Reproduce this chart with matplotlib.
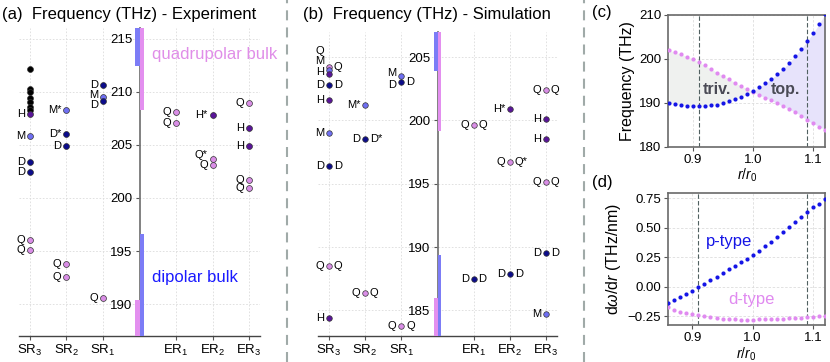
import matplotlib
matplotlib.use('Agg')
import matplotlib.pyplot as plt
from matplotlib.lines import Line2D

plt.rcParams['font.family'] = ['Liberation Sans', 'DejaVu Sans']
plt.rcParams['mathtext.fontset'] = 'custom'
plt.rcParams['mathtext.rm'] = 'Liberation Sans'
plt.rcParams['mathtext.it'] = 'Liberation Sans:italic'
plt.rcParams['mathtext.bf'] = 'Liberation Sans:bold'

# ---------------- data ----------------
categories = ['SR$_3$', 'SR$_2$', 'SR$_1$', 'ER$_1$', 'ER$_2$', 'ER$_3$']
cat_pos = [-3, -2, -1, 1, 2, 3]

# (a) experiment
exp_cat = [0] * 13 + [1] * 5 + [2] * 4 + [3] * 2 + [4] * 3 + [5] * 5
exp_freq = [212.1, 210.3, 210.0, 209.4, 209.0, 208.6, 208.25, 207.9, 205.8, 203.4, 202.4, 196.0, 195.1,
            208.3, 206.0, 204.9, 193.8, 192.6,
            210.6, 209.5, 209.1, 190.6,
            208.1, 207.1,
            207.8, 203.7, 203.1,
            208.9, 206.6, 204.9, 201.7, 200.9]
exp_type = ['X'] * 7 + ['H', 'M', 'D', 'D', 'Q', 'Q',
                        'M', 'D', 'D', 'Q', 'Q',
                        'D', 'M', 'D', 'Q',
                        'Q', 'Q',
                        'H', 'Q', 'Q',
                        'Q', 'H', 'H', 'Q', 'Q']
exp_label = [''] * 7 + ['H', 'M', 'D', 'D', 'Q', 'Q',
                        'M*', 'D*', 'D', 'Q', 'Q',
                        'D', 'M', 'D', 'Q',
                        'Q', 'Q',
                        'H*', 'Q*', 'Q',
                        'Q', 'H', 'H', 'Q', 'Q']
exp_dipolar_gap = [196.6, 212.4]      # dipolar bulk below / above
exp_quadrupolar_gap = [190.4, 208.3]  # quadrupolar bulk below / above

# (b) simulation
sim_cat = [0] * 9 + [1] * 3 + [2] * 3 + [3] * 2 + [4] * 3 + [5] * 6
sim_freq = [204.2, 204.0, 203.7, 202.8, 201.6, 199.0, 196.4, 188.5, 184.4,
            201.2, 198.5, 186.4,
            203.5, 203.05, 183.8,
            199.6, 187.5,
            200.9, 196.7, 187.9,
            202.4, 200.1, 198.5, 195.1, 189.5, 184.7]
sim_type = ['Q', 'M', 'H', 'D', 'H', 'M', 'D', 'Q', 'H',
            'M', 'D', 'Q',
            'M', 'D', 'Q',
            'Q', 'D',
            'H', 'Q', 'D',
            'Q', 'H', 'H', 'Q', 'D', 'M']
sim_left = ['Q', 'M', 'H', 'D', 'H', 'M', 'D', 'Q', 'H',
            'M*', 'D', 'Q',
            'M', 'D', 'Q',
            'Q', 'D',
            'H*', 'Q', 'D',
            'Q', 'H', 'H', 'Q', 'D', 'M']
sim_right = ['Q', '', '', 'D', '', '', 'D', 'Q', '',
             '', 'D*', 'Q',
             '', 'D', 'Q',
             'Q', 'D',
             '', 'Q*', 'D',
             'Q', '', '', 'Q', 'D', '']
sim_dipolar_gap = [189.4, 203.9]
sim_quadrupolar_gap = [186.0, 199.2]

# (c), (d)
r_ratio = [0.86, 0.87, 0.88, 0.89, 0.90, 0.91, 0.92, 0.93, 0.94, 0.95, 0.96, 0.97, 0.98, 0.99,
           1.00, 1.01, 1.02, 1.03, 1.04, 1.05, 1.06, 1.07, 1.08, 1.09, 1.10, 1.11, 1.12]
p_freq = [190.0, 189.7, 189.5, 189.3, 189.2, 189.2, 189.2, 189.4, 189.6, 189.9, 190.4, 190.8, 191.3,
          191.9, 192.7, 193.5, 194.4, 195.4, 196.5, 197.7, 199.1, 200.6, 202.2, 204.0, 205.8, 207.9, 210.2]
d_freq = [202.0, 201.5, 201.1, 200.5, 200.0, 199.2, 198.5, 197.7, 196.9, 196.2, 195.4, 194.6, 193.8,
          193.2, 192.5, 191.8, 191.2, 190.6, 189.9, 189.2, 188.6, 187.9, 187.1, 186.0, 185.3, 184.6, 183.9]
p_slope = [-0.14, -0.114, -0.09, -0.065, -0.037, -0.005, 0.023, 0.054, 0.082, 0.113, 0.147, 0.175, 0.206,
           0.237, 0.268, 0.305, 0.347, 0.381, 0.424, 0.466, 0.509, 0.546, 0.589, 0.631, 0.673, 0.704, 0.741]
d_slope = [-0.172, -0.20, -0.214, -0.225, -0.234, -0.242, -0.25, -0.259, -0.267, -0.272, -0.276, -0.278,
           -0.279, -0.279, -0.279, -0.278, -0.277, -0.276, -0.275, -0.273, -0.27, -0.268, -0.265, -0.261,
           -0.256, -0.252, -0.248]
r_marks = [0.91, 1.09]

# ---------------- style ----------------
type_color = {'X': '#000000', 'D': '#0c0c8a', 'M': '#6f6ff2', 'H': '#5a1599', 'Q': '#d98ee6'}
bar_blue = '#7c7cf6'
bar_pink = '#e38fef'
line_blue = '#1515e6'
line_pink = '#e08af0'
LABEL_FS = 8

fig = plt.figure(figsize=(8.3, 3.62), dpi=100)


def setup_level_axes(ax, ylim, yticks):
    ax.set_xlim(-3.3, 3.3)
    ax.set_ylim(*ylim)
    ax.spines['left'].set_position(('data', 0))
    ax.spines['left'].set_color('#777777')
    ax.spines['left'].set_linewidth(1.3)
    ax.spines['right'].set_visible(False)
    ax.spines['top'].set_visible(False)
    ax.spines['bottom'].set_color('#444444')
    ax.spines['bottom'].set_linewidth(1.0)
    ax.set_xticks(cat_pos)
    ax.set_xticklabels(categories, fontsize=9.5)
    ax.set_yticks(yticks)
    ax.tick_params(axis='y', labelsize=9.5, length=3, color='#555555', pad=2)
    ax.tick_params(axis='x', length=3, color='#555555', pad=2)
    ax.grid(True, ls=(0, (2, 2)), color='#dcdcdc', lw=0.6)
    ax.set_axisbelow(True)


def draw_bulk(ax, dip, quad, w):
    top = 240
    bot = 160
    # upper bands: blue left, pink right
    ax.bar(-w, top - dip[1], bottom=dip[1], width=w, align='edge', color=bar_blue, zorder=3, lw=0)
    ax.bar(0, top - quad[1], bottom=quad[1], width=w, align='edge', color=bar_pink, zorder=3, lw=0)
    # lower bands: pink left, blue right
    ax.bar(-w, quad[0] - bot, bottom=bot, width=w, align='edge', color=bar_pink, zorder=3, lw=0)
    ax.bar(0, dip[0] - bot, bottom=bot, width=w, align='edge', color=bar_blue, zorder=3, lw=0)


# ----- (a) -----
axA = fig.add_axes([19 / 830, 1 - 336 / 362, 241 / 830, 308 / 362])
setup_level_axes(axA, (187, 216), [190, 195, 200, 205, 210, 215])
draw_bulk(axA, exp_dipolar_gap, exp_quadrupolar_gap, 0.11)
exp_dy = {19: 1.5, 20: -2.5, 25: 2.5}
for i, (c, f, t, lab) in enumerate(zip(exp_cat, exp_freq, exp_type, exp_label)):
    x = cat_pos[c]
    axA.scatter(x, f, s=18, color=type_color[t], edgecolor='#333333', linewidth=0.5, zorder=4)
    if lab:
        axA.annotate(lab, (x, f), xytext=(-3.5, exp_dy.get(i, 0)), textcoords='offset points',
                     ha='right', va='center', fontsize=LABEL_FS, zorder=5)
axA.text(0.34, 213.5, 'quadrupolar bulk', color='#e08ee8', fontsize=12, va='center', ha='left')
axA.text(0.34, 192.5, 'dipolar bulk', color='#1a1aff', fontsize=12, va='center', ha='left')
fig.text(2 / 830, 1 - 14 / 362, '(a)  Frequency (THz) - Experiment', fontsize=12, ha='left', va='center')

# ----- (b) -----
axB = fig.add_axes([318 / 830, 1 - 335.7 / 362, 239 / 830, 304 / 362])
setup_level_axes(axB, (183, 207), [185, 190, 195, 200, 205])
draw_bulk(axB, sim_dipolar_gap, sim_quadrupolar_gap, 0.11)
sim_dy = {0: 12, 1: 6, 2: 1, 12: 2, 13: -2}
for i, (c, f, t, l1, l2) in enumerate(zip(sim_cat, sim_freq, sim_type, sim_left, sim_right)):
    x = cat_pos[c]
    axB.scatter(x, f, s=16, color=type_color[t], edgecolor='#333333', linewidth=0.5, zorder=4)
    if l1:
        axB.annotate(l1, (x, f), xytext=(-3.5, sim_dy.get(i, 0)), textcoords='offset points',
                     ha='right', va='center', fontsize=LABEL_FS, zorder=5)
    if l2:
        axB.annotate(l2, (x, f), xytext=(3.5, 0), textcoords='offset points',
                     ha='left', va='center', fontsize=LABEL_FS, zorder=5)
fig.text(303 / 830, 1 - 14 / 362, '(b)  Frequency (THz) - Simulation', fontsize=12, ha='left', va='center')


def setup_line_axes(ax):
    ax.set_xlim(0.859, 1.12)
    ax.set_xticks([0.9, 1.0, 1.1])
    ax.set_xticklabels(['0.9', '1.0', '1.1'])
    for s in ax.spines.values():
        s.set_color('#6a6a6a')
        s.set_linewidth(1.2)
    ax.tick_params(labelsize=9.5, length=3, color='#555555', pad=2)
    ax.grid(True, ls=(0, (3, 2)), color='#dddddd', lw=0.6)
    ax.set_axisbelow(True)
    for xm in r_marks:
        ax.axvline(xm, color='#506060', ls=(0, (4, 2)), lw=0.8, zorder=2)
    ax.set_xlabel('$r/r_0$', fontsize=10, labelpad=1)


# ----- (c) -----
axC = fig.add_axes([668.3 / 830, 1 - 146.7 / 362, 156.7 / 830, 131.7 / 362])
setup_line_axes(axC)
axC.set_ylim(180, 210)
axC.set_yticks([180, 190, 200, 210])
axC.fill_between(r_ratio, p_freq, d_freq, where=[d >= p for p, d in zip(p_freq, d_freq)],
                 interpolate=True, color='#eff1ef', lw=0, zorder=1)
axC.fill_between(r_ratio, p_freq, d_freq, where=[p >= d for p, d in zip(p_freq, d_freq)],
                 interpolate=True, color='#e7e3fb', lw=0, zorder=1)
axC.plot(r_ratio, d_freq, 'o', ms=3.0, color=line_pink, mec='none', zorder=3)
axC.plot(r_ratio, p_freq, 'o', ms=3.0, color=line_blue, mec='none', zorder=3)
axC.text(0.917, 193.1, 'triv.', fontsize=11.5, fontweight='bold', color='#4a4a55', va='center', ha='left')
axC.text(1.03, 193.1, 'top.', fontsize=11.5, fontweight='bold', color='#4a4a55', va='center', ha='left')
axC.set_ylabel('Frequency (THz)', fontsize=11.5, labelpad=3)
fig.text(592 / 830, 1 - 12 / 362, '(c)', fontsize=12, ha='left', va='center')

# ----- (d) -----
axD = fig.add_axes([667.7 / 830, 1 - 325.3 / 362, 157.3 / 830, 132.6 / 362])
setup_line_axes(axD)
axD.set_ylim(-0.328, 0.798)
axD.set_yticks([-0.25, 0.0, 0.25, 0.5, 0.75])
axD.set_yticklabels(['\u22120.25', '0.00', '0.25', '0.50', '0.75'])
axD.plot(r_ratio, d_slope, 'o', ms=3.0, color=line_pink, mec='none', zorder=3)
axD.plot(r_ratio, p_slope, 'o', ms=3.0, color=line_blue, mec='none', zorder=3)
axD.text(0.922, 0.38, 'p-type', fontsize=12, color=line_blue, va='center', ha='left')
axD.text(0.96, -0.11, 'd-type', fontsize=12, color=line_pink, va='center', ha='left')
axD.set_ylabel('d$\\omega$/d$r$ (THz/nm)', fontsize=11.5, labelpad=3)
fig.text(592 / 830, 1 - 182 / 362, '(d)', fontsize=12, ha='left', va='center')

# separators
for xs in [287 / 830, 584 / 830]:
    fig.add_artist(Line2D([xs, xs], [0, 1], transform=fig.transFigure, color='#a0aaa8',
                          lw=1.5, ls=(0, (4.8, 3.4))))

fig.savefig('out.png', dpi=100)
